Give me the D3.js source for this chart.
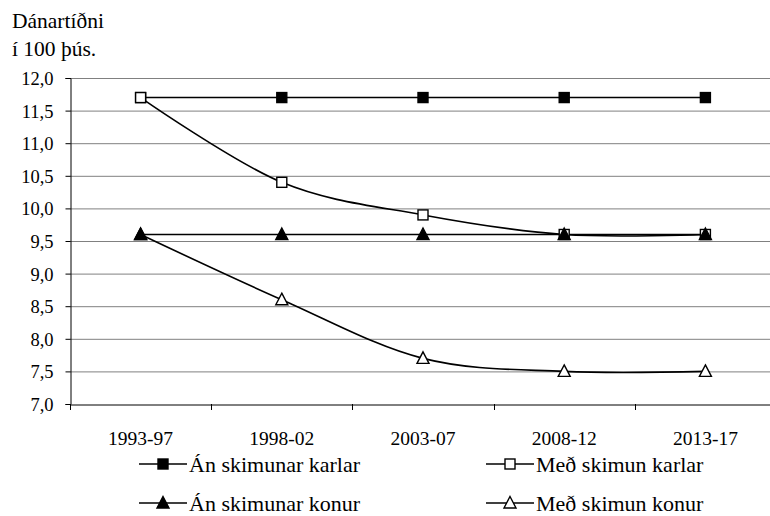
<!DOCTYPE html>
<html>
<head>
<meta charset="utf-8">
<script src="https://cdn.jsdelivr.net/npm/d3@7/dist/d3.min.js"></script>
<style>
  html, body { margin: 0; padding: 0; background: #fff; }
</style>
</head>
<body>
<svg id="chart" width="770" height="516" font-family="'Liberation Serif', 'DejaVu Serif', serif"></svg>
<script>
// Dánartíðni á 100 þúsund, eftir tímabili
const periods = ["1993-97", "1998-02", "2003-07", "2008-12", "2013-17"];
const anKarlar = [11.7, 11.7, 11.7, 11.7, 11.7];
const medKarlar = [11.7, 10.4, 9.9, 9.6, 9.6];
const anKonur = [9.6, 9.6, 9.6, 9.6, 9.6];
const medKonur = [9.6, 8.6, 7.7, 7.5, 7.5];
const yTicks = [7.0, 7.5, 8.0, 8.5, 9.0, 9.5, 10.0, 10.5, 11.0, 11.5, 12.0];
const seriesNames = ["Án skimunar karlar", "Með skimun karlar", "Án skimunar konur", "Með skimun konur"];

const FONT = "'Liberation Serif', 'DejaVu Serif', serif";

const series = [
  { name: seriesNames[0], values: anKarlar, marker: "square", fill: "#000", z: 0 },
  { name: seriesNames[1], values: medKarlar, marker: "square", fill: "#fff", z: 1 },
  { name: seriesNames[2], values: anKonur, marker: "triangle", fill: "#000", z: 3 },
  { name: seriesNames[3], values: medKonur, marker: "triangle", fill: "#fff", z: 2 }
];

const svg = d3.select("#chart");
const plotLeft = 70, plotRight = 776, plotTop = 78, plotBottom = 404;

const x = d3.scaleBand().domain(periods).range([plotLeft, plotRight]);
const y = d3.scaleLinear().domain([7, 12]).range([plotBottom, plotTop]);

function txt(sel, size) {
  return sel.attr("font-family", FONT).style("font-family", FONT).style("font-size", size + "px").attr("fill", "#000");
}

// gridlines
svg.append("g")
  .selectAll("line")
  .data(yTicks.slice(1))
  .join("line")
  .attr("x1", plotLeft).attr("x2", 770)
  .attr("y1", d => y(d) + 0.5).attr("y2", d => y(d) + 0.5)
  .attr("stroke", "#808080").attr("stroke-width", 1);

// y axis
const yAxis = svg.append("g")
  .attr("transform", `translate(${plotLeft + 0.5},0)`)
  .call(d3.axisLeft(y).tickValues(yTicks).tickSize(5).tickPadding(12)
    .tickFormat(d => d3.format(".1f")(d).replace(".", ",")));
yAxis.attr("font-family", FONT);
yAxis.select(".domain").attr("stroke", "#000");
yAxis.selectAll(".tick line").attr("stroke", "#000");
txt(yAxis.selectAll(".tick text"), 18.5).attr("dy", "0.35em");

// x axis
const xAxis = svg.append("g")
  .attr("transform", `translate(0,${plotBottom + 0.5})`)
  .call(d3.axisBottom(x).tickSize(0).tickFormat(""));
xAxis.select(".domain").attr("stroke", "#000");
xAxis.selectAll(".tick").remove();
const bounds = periods.map(p => x(p)).concat([plotRight]);
svg.append("g").selectAll("line")
  .data(bounds)
  .join("line")
  .attr("x1", d => Math.round(d) + 0.5).attr("x2", d => Math.round(d) + 0.5)
  .attr("y1", plotBottom).attr("y2", plotBottom + 6)
  .attr("stroke", "#000");
txt(svg.append("g").selectAll("text")
  .data(periods)
  .join("text")
  .attr("x", d => x(d) + x.bandwidth() / 2)
  .attr("y", 445)
  .attr("text-anchor", "middle")
  .text(d => d), 19.5);

// axis title
txt(svg.append("text").attr("x", 12).attr("y", 28).text("Dánartíðni"), 21.5);
txt(svg.append("text").attr("x", 12).attr("y", 56).text("í 100 þús."), 21.5);

const cx = i => x(periods[i]) + x.bandwidth() / 2;
const line = d3.line()
  .x((d, i) => cx(i))
  .y(d => y(d))
  .curve(d3.curveCardinal.tension(0));

function drawMarker(g, type, fill, px, py) {
  if (type === "square") {
    g.append("rect")
      .attr("x", px - 5).attr("y", py - 5)
      .attr("width", 10).attr("height", 10)
      .attr("fill", fill).attr("stroke", "#000").attr("stroke-width", 1.4);
  } else {
    g.append("path")
      .attr("d", `M${px},${py - 6.5}L${px + 6},${py + 5}L${px - 6},${py + 5}Z`)
      .attr("fill", fill).attr("stroke", "#000").attr("stroke-width", 1.4);
  }
}

// series lines, then markers stacked by z
const plot = svg.append("g");
series.forEach(s => {
  plot.append("path")
    .attr("d", line(s.values))
    .attr("fill", "none").attr("stroke", "#000").attr("stroke-width", 1.6);
});
series.slice().sort((a, b) => a.z - b.z).forEach(s => {
  const g = plot.append("g");
  s.values.forEach((v, i) => drawMarker(g, s.marker, s.fill, cx(i), y(v)));
});

// legend
const legendPos = [
  { lx: 139, ly: 464 }, { lx: 486, ly: 464 },
  { lx: 139, ly: 503 }, { lx: 486, ly: 503 }
];
series.forEach((s, i) => {
  const p = legendPos[i];
  const g = svg.append("g");
  g.append("line")
    .attr("x1", p.lx).attr("x2", p.lx + 48)
    .attr("y1", p.ly).attr("y2", p.ly)
    .attr("stroke", "#000").attr("stroke-width", 1.6);
  drawMarker(g, s.marker, s.fill, p.lx + 24, p.ly);
  txt(g.append("text")
    .attr("x", p.lx + 50).attr("y", p.ly + 8)
    .text(s.name), 22);
});
</script>
</body>
</html>
